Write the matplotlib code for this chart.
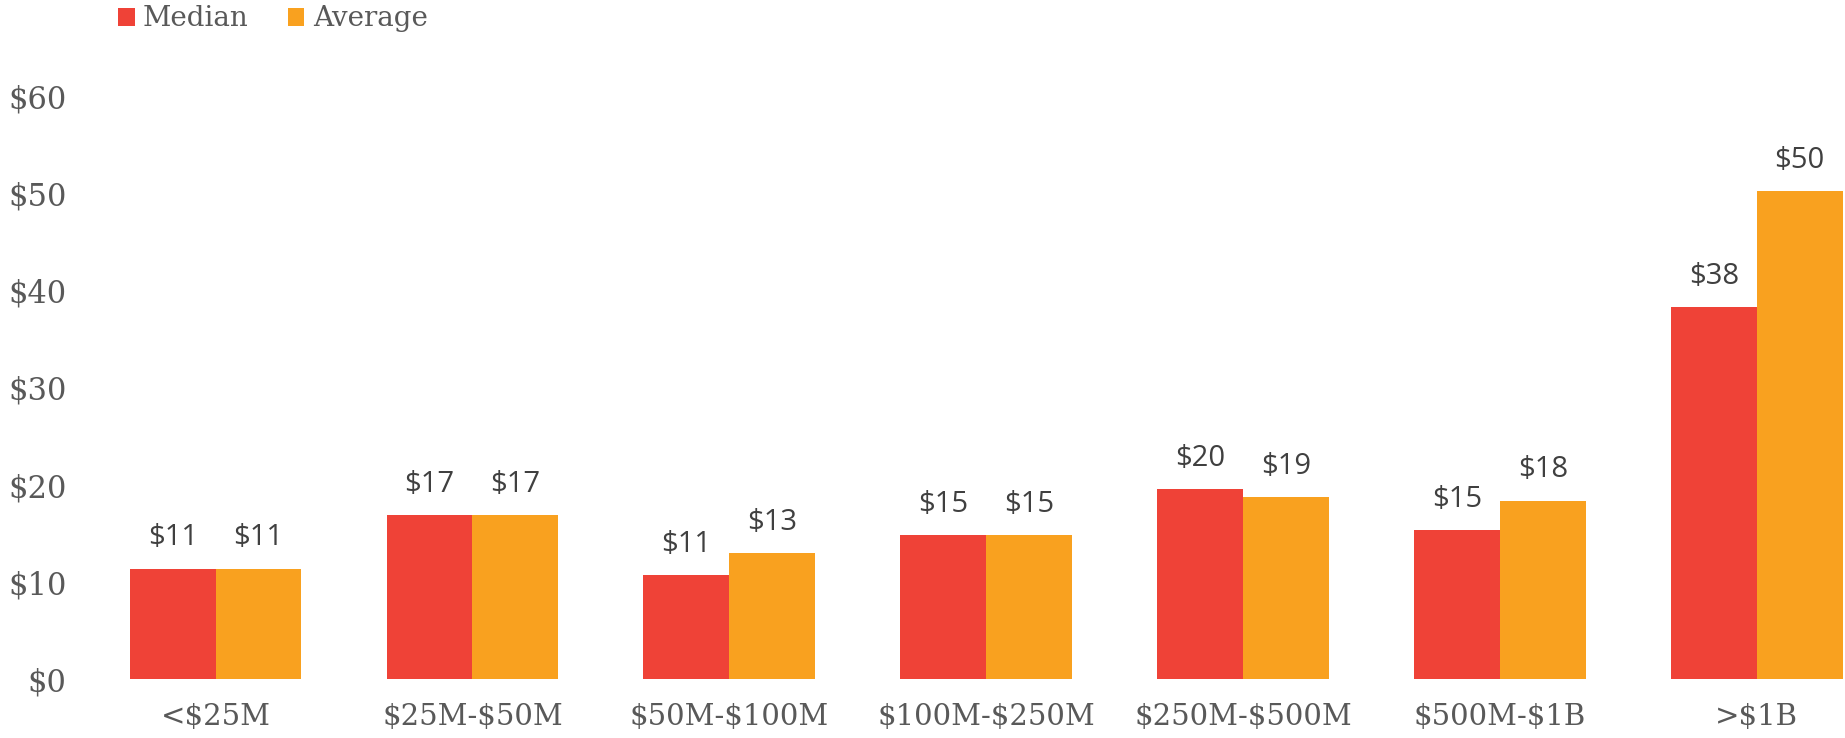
import numpy as np
import matplotlib.pyplot as plt

plt.rcParams['text.parse_math'] = False

categories = ['<$25M', '$25M-$50M', '$50M-$100M', '$100M-$250M', '$250M-$500M', '$500M-$1B', '>$1B']
median = [11.4, 16.9, 10.7, 14.8, 19.6, 15.4, 38.3]
average = [11.4, 16.9, 13.0, 14.8, 18.8, 18.4, 50.3]
yticks = [0, 10, 20, 30, 40, 50, 60]

red = '#EF4237'
orange = '#F9A11F'
axis_gray = '#595959'
label_gray = '#404040'

fig = plt.figure(figsize=(18.45, 7.38), dpi=100)
ax = fig.add_axes([0.0472, 0.0797, 0.9515, 0.7893])

x = np.arange(len(categories))
w = 0.334
b1 = ax.bar(x - w/2, median, w, color=red, label='Median')
b2 = ax.bar(x + w/2, average, w, color=orange, label='Average')

for bars, vals in [(b1, median), (b2, average)]:
    for rect, v in zip(bars, vals):
        ax.annotate('$%d' % round(v), (rect.get_x() + rect.get_width()/2, v),
                    xytext=(0, 22), textcoords='offset points',
                    ha='center', va='center', fontsize=21,
                    family='Open Sans', color=label_gray)

ax.set_xlim(-0.5, 6 + w)
ax.set_ylim(0, 60)
ax.set_xticks(x)
ax.set_xticklabels(categories, family='DejaVu Serif', fontsize=21, color=axis_gray)
ax.set_yticks(yticks)
ax.set_yticklabels(['$%d' % t for t in yticks], family='DejaVu Serif', fontsize=22, color=axis_gray)
ax.tick_params(axis='both', length=0)
ax.tick_params(axis='x', pad=17)
ax.tick_params(axis='y', pad=15)
for s in ax.spines.values():
    s.set_visible(False)

fig.legend(handles=[b1, b2], loc='center left', bbox_to_anchor=(118/1845, 1 - 19/738),
           ncol=2, frameon=False, borderpad=0, borderaxespad=0,
           handlelength=0.6, handleheight=0.6, handletextpad=0.3, columnspacing=1.4,
           prop={'family': 'DejaVu Serif', 'size': 20}, labelcolor=axis_gray)

plt.savefig('out.png', dpi=100)
plt.close()
